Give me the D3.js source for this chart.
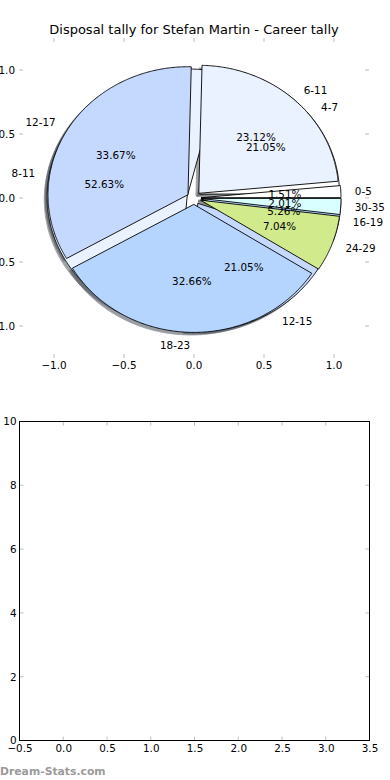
<!DOCTYPE html>
<html>
<head>
<meta charset="utf-8">
<script src="https://cdn.jsdelivr.net/npm/d3@7"></script>
<style>
  html, body { margin: 0; padding: 0; background: #fff; }
  svg { display: block; }
  text { font-family: "DejaVu Sans", sans-serif; }
</style>
</head>
<body>
<script>
// ---- data ----
const title = "Disposal tally for Stefan Martin - Career tally";
const careerLabels = ["0-5", "6-11", "12-17", "18-23", "24-29", "30-35"];
const careerPct = [1.51, 23.12, 33.67, 32.66, 7.04, 2.01];
const seasonLabels = ["4-7", "8-11", "12-15", "16-19"];
const seasonPct = [21.05, 52.63, 21.05, 5.26];
const wedgeColors = ["#FFFFFF", "#EAF1FF", "#C5D9FF", "#B5D5FF", "#D0EA8C", "#D9FFFF"];
const pieTicks = [-1.0, -0.5, 0.0, 0.5, 1.0];
const barXTicks = [-0.5, 0.0, 0.5, 1.0, 1.5, 2.0, 2.5, 3.0, 3.5];
const barYTicks = [0, 2, 4, 6, 8, 10];
const watermark = "Dream-Stats.com";

const W = 390, H = 780;
const FS = 10.4;
const tickColor = "#bdbdbd";

const svg = d3.select("body").append("svg").attr("width", W).attr("height", H);

// ---- top axes (pie) ----
const x = d3.scaleLinear().domain([-1.25, 1.25]).range([19, 369]);
const y = d3.scaleLinear().domain([-1.25, 1.25]).range([358, 38]);

svg.append("text").attr("x", 194).attr("y", 34).attr("text-anchor", "middle")
  .attr("font-size", 13).text(title);

const explode = 0.05, radius = 1;
const lineGen = d3.line().x(d => x(d[0])).y(d => y(d[1]));
function wedgePath(cx, cy, r, a0, a1) {
  const n = Math.max(2, Math.ceil((a1 - a0) / (Math.PI / 360)));
  const pts = [[cx, cy]];
  for (let i = 0; i <= n; i++) {
    const t = a0 + (a1 - a0) * i / n;
    pts.push([cx + r * Math.cos(t), cy + r * Math.sin(t)]);
  }
  return lineGen(pts) + "Z";
}
const pieGen = d3.pie().sort(null).value(d => d);

function layout(vals, labels) {
  return pieGen(vals).map((a, i) => {
    const m = (a.startAngle + a.endAngle) / 2;
    return {
      a0: a.startAngle, a1: a.endAngle, m,
      cx: explode * Math.cos(m), cy: explode * Math.sin(m),
      color: wedgeColors[i % wedgeColors.length],
      label: labels[i], pct: vals[i]
    };
  });
}
const season = layout(seasonPct, seasonLabels);
const career = layout(careerPct, careerLabels);
const pies = [season, career];

function shade(c) {
  const r = d3.rgb(c);
  return d3.rgb(r.r * 0.3, r.g * 0.3, r.b * 0.3).toString();
}
const gPie = svg.append("g");
// shadows first
pies.forEach(p => p.forEach(w => {
  gPie.append("path")
    .attr("d", wedgePath(w.cx - 0.02, w.cy - 0.02, radius, w.a0, w.a1))
    .attr("fill", shade(w.color)).attr("stroke", shade(w.color))
    .attr("stroke-width", 1).attr("opacity", 0.5);
}));
// wedges
pies.forEach(p => p.forEach(w => {
  gPie.append("path")
    .attr("d", wedgePath(w.cx, w.cy, radius, w.a0, w.a1))
    .attr("fill", w.color).attr("stroke", "#000").attr("stroke-width", 0.9)
    .attr("stroke-linejoin", "miter");
}));
// texts
pies.forEach(p => p.forEach(w => {
  const lx = w.cx + 1.1 * radius * Math.cos(w.m);
  const ly = w.cy + 1.1 * radius * Math.sin(w.m);
  gPie.append("text").attr("x", x(lx)).attr("y", y(ly)).attr("dy", "0.35em")
    .attr("text-anchor", lx > 0 ? "start" : "end").attr("font-size", FS).text(w.label);
  const px = w.cx + 0.6 * radius * Math.cos(w.m);
  const py = w.cy + 0.6 * radius * Math.sin(w.m);
  gPie.append("text").attr("x", x(px)).attr("y", y(py)).attr("dy", "0.35em")
    .attr("text-anchor", "middle").attr("font-size", FS).text(w.pct.toFixed(2) + "%");
}));

// pie axes ticks (no frame)
const fmt1 = d3.format(".1f");
const gT = svg.append("g");
pieTicks.forEach(t => {
  gT.append("line").attr("x1", x(t)).attr("x2", x(t)).attr("y1", 358).attr("y2", 354).attr("stroke", tickColor);
  gT.append("line").attr("x1", x(t)).attr("x2", x(t)).attr("y1", 38).attr("y2", 42).attr("stroke", tickColor);
  gT.append("line").attr("y1", y(t)).attr("y2", y(t)).attr("x1", 19).attr("x2", 23).attr("stroke", tickColor);
  gT.append("line").attr("y1", y(t)).attr("y2", y(t)).attr("x1", 369).attr("x2", 365).attr("stroke", tickColor);
  gT.append("text").attr("x", x(t)).attr("y", 369).attr("text-anchor", "middle")
    .attr("font-size", FS).text(fmt1(t));
  gT.append("text").attr("x", 15).attr("y", y(t)).attr("dy", "0.35em").attr("text-anchor", "end")
    .attr("font-size", FS).text(fmt1(t));
});

// ---- bottom axes (empty) ----
const bx = d3.scaleLinear().domain([-0.5, 3.5]).range([19.5, 369.5]);
const by = d3.scaleLinear().domain([0, 10]).range([740.5, 421.5]);
const gB = svg.append("g");
const bottomAxis = d3.axisBottom(bx).tickValues(barXTicks).tickFormat(fmt1).tickSize(0).tickPadding(4);
const leftAxis = d3.axisLeft(by).tickValues(barYTicks).tickFormat(d3.format("d")).tickSize(0).tickPadding(3);
const gx = gB.append("g").attr("transform", "translate(0,740.5)").call(bottomAxis);
const gy = gB.append("g").attr("transform", "translate(19.5,0)").call(leftAxis);
[gx, gy].forEach(g => {
  g.select(".domain").remove();
  g.selectAll("text").attr("font-family", "DejaVu Sans").attr("font-size", FS).attr("fill", "#000");
});
gy.selectAll("text").attr("x", -3);
// inward gray tick marks on all four sides
barXTicks.forEach(t => {
  gB.append("line").attr("x1", bx(t)).attr("x2", bx(t)).attr("y1", 740.5).attr("y2", 736.5).attr("stroke", tickColor);
  gB.append("line").attr("x1", bx(t)).attr("x2", bx(t)).attr("y1", 421.5).attr("y2", 425.5).attr("stroke", tickColor);
});
barYTicks.forEach(t => {
  gB.append("line").attr("y1", by(t)).attr("y2", by(t)).attr("x1", 19.5).attr("x2", 23.5).attr("stroke", tickColor);
  gB.append("line").attr("y1", by(t)).attr("y2", by(t)).attr("x1", 369.5).attr("x2", 365.5).attr("stroke", tickColor);
});
gB.append("rect").attr("x", 19.5).attr("y", 421.5).attr("width", 350).attr("height", 319)
  .attr("fill", "none").attr("stroke", "#000").attr("stroke-width", 1);

svg.append("text").attr("x", 0).attr("y", 775).attr("font-size", 10.8)
  .attr("fill", "#9a9a9a").attr("font-weight", "600").text(watermark);
</script>
</body>
</html>
